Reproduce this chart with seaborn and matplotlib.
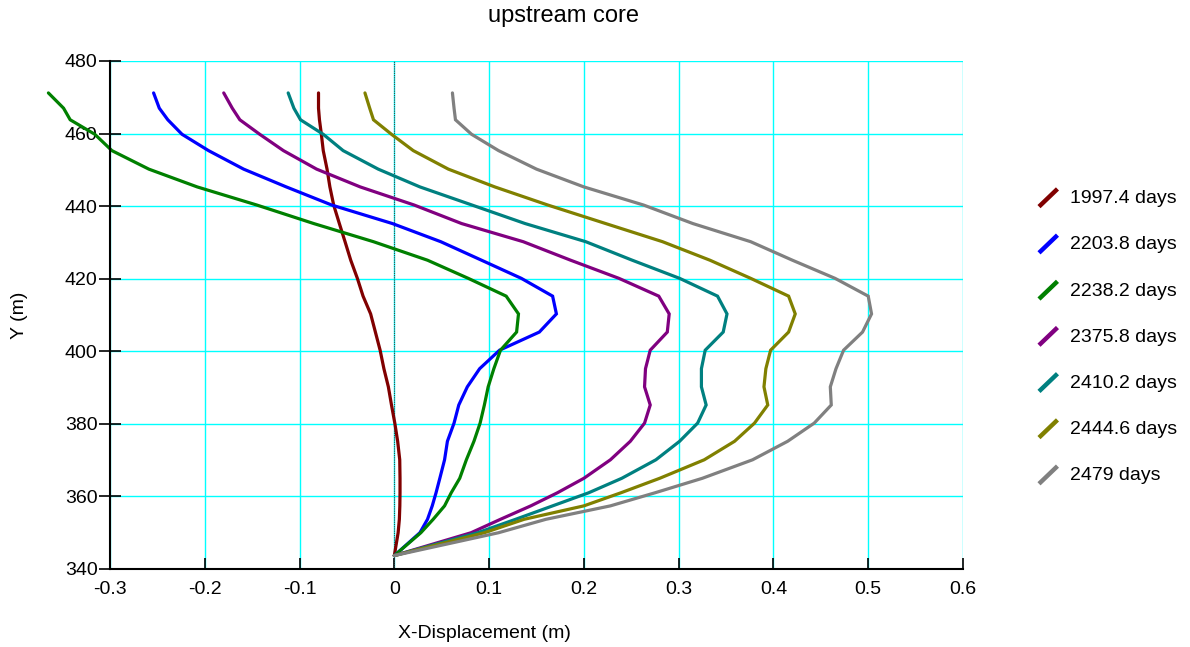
import numpy as np
import pandas as pd
import matplotlib
matplotlib.use("Agg")
import matplotlib.pyplot as plt
from matplotlib.lines import Line2D
from matplotlib.legend_handler import HandlerBase
import seaborn as sns

# node elevations (m), shared by all profiles
depth = [343.7, 350, 353.7, 357.4, 361, 365, 370.1, 375.2, 380.2, 385.2,
         390.2, 395.2, 400.3, 405.3, 410.3, 415.2, 420.1, 425.1, 430.2,
         435.2, 440.3, 445.3, 450.2, 455.3, 459.8, 463.8, 467, 471.2]

labels = ["1997.4 days", "2203.8 days", "2238.2 days", "2375.8 days",
          "2410.2 days", "2444.6 days", "2479 days"]
colors = ["#800000", "#0000ff", "#008000", "#800080",
          "#008080", "#808000", "#808080"]

x_1997 = [0, 0.004, 0.0053, 0.0058, 0.006, 0.006, 0.0057, 0.0035, 0.0005, -0.003,
          -0.0063, -0.011, -0.015, -0.020, -0.025, -0.033, -0.039, -0.046, -0.052,
          -0.058, -0.064, -0.068, -0.071, -0.075, -0.077, -0.079, -0.080, -0.080]
x_2203 = [0, 0.027, 0.035, 0.040, 0.044, 0.048, 0.053, 0.056, 0.063, 0.068,
          0.077, 0.090, 0.111, 0.153, 0.171, 0.167, 0.134, 0.092, 0.049,
          -0.002, -0.066, -0.114, -0.159, -0.196, -0.224, -0.239, -0.248, -0.254]
x_2238 = [0, 0.028, 0.041, 0.053, 0.060, 0.069, 0.076, 0.084, 0.0905, 0.095,
          0.099, 0.105, 0.112, 0.129, 0.131, 0.118, 0.078, 0.035, -0.022,
          -0.085, -0.145, -0.208, -0.259, -0.298, -0.316, -0.342, -0.349, -0.365]
x_2375 = [0, 0.081, 0.112, 0.144, 0.172, 0.200, 0.228, 0.249, 0.264, 0.270,
          0.264, 0.265, 0.270, 0.288, 0.290, 0.279, 0.237, 0.186, 0.136,
          0.071, 0.021, -0.036, -0.082, -0.117, -0.142, -0.163, -0.171, -0.180]
x_2410 = [0, 0.088, 0.128, 0.167, 0.205, 0.240, 0.276, 0.301, 0.320, 0.329,
          0.324, 0.324, 0.328, 0.347, 0.351, 0.341, 0.301, 0.251, 0.202,
          0.138, 0.082, 0.027, -0.017, -0.054, -0.075, -0.099, -0.106, -0.112]
x_2444 = [0, 0.095, 0.137, 0.200, 0.239, 0.280, 0.327, 0.359, 0.380, 0.394,
          0.390, 0.392, 0.397, 0.416, 0.423, 0.416, 0.376, 0.333, 0.283,
          0.223, 0.162, 0.106, 0.057, 0.020, -0.003, -0.022, -0.026, -0.031]
x_2479 = [0, 0.110, 0.160, 0.228, 0.275, 0.325, 0.378, 0.415, 0.443, 0.461,
          0.460, 0.466, 0.474, 0.494, 0.5035, 0.500, 0.465, 0.420, 0.376,
          0.315, 0.263, 0.200, 0.150, 0.110, 0.0815, 0.0645, 0.063, 0.0613]

series = [x_1997, x_2203, x_2238, x_2375, x_2410, x_2444, x_2479]


class DiagonalHandler(HandlerBase):
    # legend key drawn as a short slanted stroke
    def create_artists(self, legend, orig_handle, xdescent, ydescent,
                       width, height, fontsize, trans):
        line = Line2D([0, width], [-0.25 * height, 1.05 * height],
                      color=orig_handle.get_color(), lw=3.2,
                      solid_capstyle="butt", transform=trans)
        return [line]


sns.set_theme(style="white")
plt.rcParams["font.family"] = ["Liberation Sans", "DejaVu Sans"]
plt.rcParams["text.color"] = "black"
plt.rcParams["xtick.color"] = "black"
plt.rcParams["ytick.color"] = "black"

frames = []
for lab, xs in zip(labels, series):
    frames.append(pd.DataFrame({"x": xs, "y": depth, "time": lab}))
df = pd.concat(frames, ignore_index=True)

fig = plt.figure(figsize=(11.9, 6.47), dpi=100)
ax = fig.add_axes([110 / 1190, 1 - 569 / 647, 853 / 1190, 508 / 647])

sns.lineplot(data=df, x="x", y="y", hue="time", palette=dict(zip(labels, colors)),
             estimator=None, sort=False, linewidth=2.3, legend=False, ax=ax)
for ln in ax.lines:
    ln.set_clip_on(False)
    ln.set_solid_joinstyle("miter")

ax.set_xlim(-0.3, 0.6)
ax.set_ylim(340, 480)
ax.set_xticks(np.arange(-0.3, 0.61, 0.1))
ax.set_xticklabels(["-0.3", "-0.2", "-0.1", "0", "0.1", "0.2", "0.3", "0.4", "0.5", "0.6"])
ax.set_yticks(np.arange(340, 481, 20))

ax.grid(True, color="#00ffff", linewidth=1.0)
ax.set_axisbelow(True)
ax.axvline(0, color="#404040", linewidth=0.8, linestyle=(0, (1, 1)), zorder=1.5)

for side in ["top", "right"]:
    ax.spines[side].set_visible(False)
for side in ["left", "bottom"]:
    ax.spines[side].set_color("black")
    ax.spines[side].set_linewidth(1.5)

ax.tick_params(axis="x", direction="in", length=8, width=1.2, color="black",
               labelcolor="black", labelsize=14, pad=9, bottom=True)
ax.tick_params(axis="y", direction="inout", length=16, width=1.2, color="black",
               labelcolor="black", labelsize=14, pad=1, left=True)

ax.set_xlabel("")
ax.set_ylabel("")
fig.text(484 / 1190, 1 - 634 / 647, "X-Displacement (m)", ha="center", va="center",
         fontsize=14, color="black")
fig.text(20 / 1190, 1 - 315 / 647, "Y (m)", ha="center", va="center", rotation=90,
         fontsize=14, color="black")
fig.text(564 / 1190, 1 - 16 / 647, "upstream core", ha="center", va="center",
         fontsize=17, color="black")

handles = [Line2D([], [], color=c) for c in colors]
fig.legend(handles, labels, loc="center left", bbox_to_anchor=(1039 / 1190, 1 - 337 / 647),
           frameon=False, fontsize=14, handlelength=0.95, handletextpad=0.65,
           labelspacing=1.47, borderpad=0, borderaxespad=0,
           handler_map={Line2D: DiagonalHandler()})

fig.savefig("out.png", dpi=100)
